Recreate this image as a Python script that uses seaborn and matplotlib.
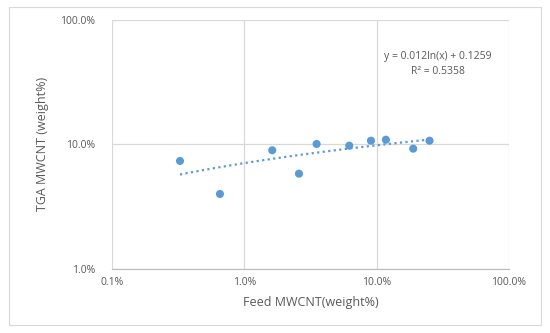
import numpy as np
import pandas as pd
import matplotlib
matplotlib.use("Agg")
import matplotlib.pyplot as plt
import seaborn as sns
from matplotlib.ticker import FixedLocator, FuncFormatter, NullLocator
from matplotlib.patches import Rectangle

# Data (fractions)
feed_mwcnt = [0.00327, 0.00655, 0.01627, 0.0259, 0.0352, 0.0621, 0.0906, 0.1175, 0.189, 0.251]
tga_mwcnt = [0.0735, 0.0399, 0.0896, 0.0581, 0.1007, 0.0976, 0.1070, 0.1090, 0.0923, 0.1070]
trend_a = 0.012
trend_b = 0.1259
trend_r2 = 0.5358
x_ticks = [0.001, 0.01, 0.1, 1.0]
y_ticks = [0.01, 0.1, 1.0]

df = pd.DataFrame({"feed": feed_mwcnt, "tga": tga_mwcnt})
xs = np.logspace(np.log10(min(feed_mwcnt)), np.log10(max(feed_mwcnt)), 100)
trend = pd.DataFrame({"feed": xs, "tga": trend_a * np.log(xs) + trend_b})

sns.set_theme(style="white")
plt.rcParams['font.family'] = ['Open Sans', 'DejaVu Sans']

fig = plt.figure(figsize=(5.5, 3.33), dpi=100)
fig.patch.set_facecolor("white")
fig.add_artist(Rectangle((8.5/550, 1 - 325/333), (540.5 - 8.5)/550, (325 - 6.5)/333,
                         transform=fig.transFigure, fill=False, edgecolor="#D9D9D9", linewidth=0.8))

ax = fig.add_axes([111.9/550, 1 - 268.7/333, (509 - 111.9)/550, (268.7 - 20)/333])
ax.set_xscale("log")
ax.set_yscale("log")
ax.set_xlim(0.001, 1.0)
ax.set_ylim(0.01, 1.0)

sns.lineplot(data=trend, x="feed", y="tga", ax=ax, color="#5B9BD5", linestyle=(0, (1, 1.5)),
             linewidth=1.6, zorder=2)
sns.scatterplot(data=df, x="feed", y="tga", ax=ax, color="#5B9BD5", s=34, edgecolor="none", zorder=3)

ax.xaxis.set_major_locator(FixedLocator(x_ticks))
ax.yaxis.set_major_locator(FixedLocator(y_ticks))
ax.xaxis.set_minor_locator(NullLocator())
ax.yaxis.set_minor_locator(NullLocator())
fmt = FuncFormatter(lambda v, p: f"{v*100:.1f}%")
ax.xaxis.set_major_formatter(fmt)
ax.yaxis.set_major_formatter(fmt)
ax.grid(True, color="#D9D9D9", linewidth=0.9)
ax.set_axisbelow(True)
for s in ["top", "right"]:
    ax.spines[s].set_visible(False)
ax.spines["left"].set_visible(False)
ax.spines["bottom"].set_color("#BFBFBF")
ax.spines["bottom"].set_linewidth(0.9)
ax.tick_params(axis="both", length=0, labelsize=7.5, colors="#595959", pad=6)
ax.tick_params(axis="y", pad=12)

ax.set_xlabel("Feed MWCNT(weight%)", fontsize=9, color="#595959", labelpad=6)
ax.set_ylabel("TGA MWCNT (weight%)", fontsize=9, color="#595959", labelpad=8)

fig.text(438/550, 1 - 57/333, "y = 0.012ln(x) + 0.1259", ha="center", va="center",
         fontsize=7.5, color="#595959")
fig.text(438/550, 1 - 71/333, f"R² = {trend_r2}", ha="center", va="center",
         fontsize=7.5, color="#595959")

fig.savefig("out.png", dpi=100)
